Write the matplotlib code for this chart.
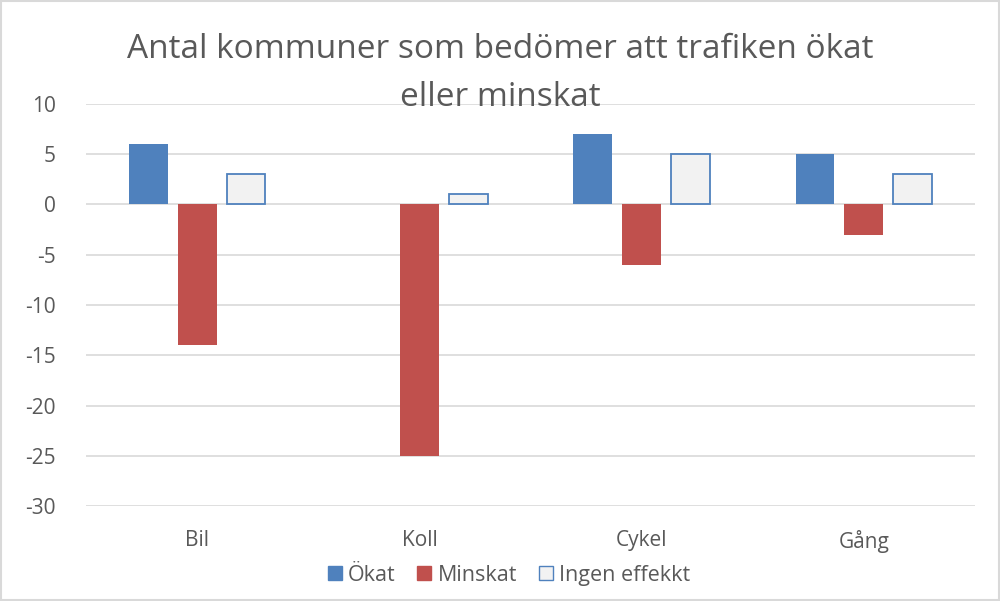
import numpy as np
import matplotlib.pyplot as plt
from matplotlib.patches import Rectangle

categories = ['Bil', 'Koll', 'Cykel', 'Gång']
okat = [6, 0, 7, 5]
minskat = [-14, -25, -6, -3]
ingen = [3, 1, 5, 3]
yticks = [10, 5, 0, -5, -10, -15, -20, -25, -30]

plt.rcParams['font.family'] = ['Open Sans', 'DejaVu Sans']
plt.rcParams['axes.unicode_minus'] = False

fig = plt.figure(figsize=(10, 6.01), dpi=100)
ax = fig.add_axes([0.086, 0.158, 0.889, 0.669])

x = np.arange(len(categories))
w = 0.175
off = 0.22
ax.bar(x - off, okat, w, color='#4F81BD', zorder=3)
ax.bar(x, minskat, w, color='#C0504D', zorder=3)
ax.bar(x + off, ingen, w, color='#F2F2F2', edgecolor='#4F81BD', linewidth=1.3, zorder=3)

ax.set_xlim(-0.5, 3.5)
ax.set_ylim(-30, 10)
ax.set_yticks(yticks)
ax.set_xticks(x)
ax.set_xticklabels(categories)
ax.tick_params(axis='both', length=0, labelsize=15, labelcolor='#595959')
ax.tick_params(axis='x', pad=17)
ax.tick_params(axis='y', pad=22)
ax.grid(axis='y', color='#D9D9D9', linewidth=1.2, zorder=0)
for s in ax.spines.values():
    s.set_visible(False)

fig.text(0.5, 0.877, 'Antal kommuner som bedömer att trafiken ökat\neller minskat',
         ha='center', va='center', fontsize=24, color='#595959', linespacing=1.6)

h1 = Rectangle((0, 0), 1, 1, color='#4F81BD')
h2 = Rectangle((0, 0), 1, 1, color='#C0504D')
h3 = Rectangle((0, 0), 1, 1, facecolor='#F2F2F2', edgecolor='#4F81BD')
fig.legend([h1, h2, h3], ['Ökat', 'Minskat', 'Ingen effekkt'], loc='center',
           bbox_to_anchor=(0.509, 0.043), ncol=3, frameon=False, fontsize=15.5,
           labelcolor='#595959', handlelength=0.65, handleheight=0.65,
           handletextpad=0.3, columnspacing=1.0)

fig.patches.append(Rectangle((0.001, 0.001), 0.998, 0.998, transform=fig.transFigure,
                             fill=False, edgecolor='#D9D9D9', linewidth=1.5))

fig.savefig('out.png', dpi=100)
